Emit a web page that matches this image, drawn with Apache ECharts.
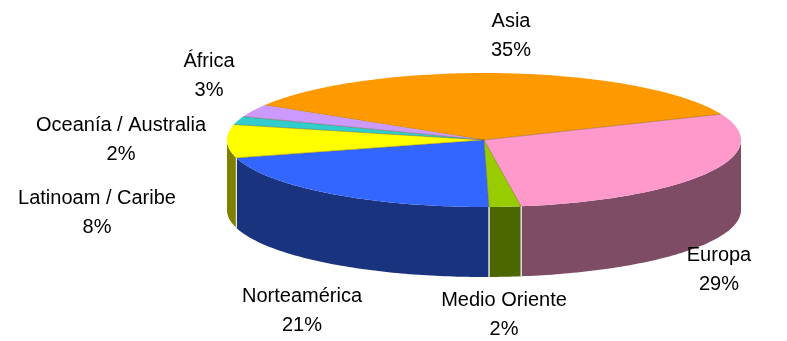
<!DOCTYPE html>
<html>
<head>
<meta charset="utf-8">
<script src="https://cdn.jsdelivr.net/npm/echarts@6/dist/echarts.min.js"></script>
<style>
  html, body { margin: 0; padding: 0; background: #ffffff; }
  #chart { width: 787px; height: 341px; }
</style>
</head>
<body>
<div id="chart"></div>
<script>
// Regional shares (%), in drawing order, clockwise from the back-left
const regions = ['Asia', 'Europa', 'Medio Oriente', 'Norteamérica', 'Latinoam / Caribe', 'Oceanía / Australia', 'África'];
const shares = [35, 29, 2, 21, 8, 2, 3];

// Top-face and side-wall colours for each slice
const topColors = ['#FF9900', '#FF99CC', '#99CC00', '#3366FF', '#FFFF00', '#33CCCC', '#CC99FF'];
const sideColors = ['#7F4C00', '#7F4C66', '#4C6600', '#1A337F', '#808000', '#196666', '#664C7F'];

// Tilted-disc geometry (pixels) and label anchor points
const geo = { cx: 484, cy: 140, rx: 257, ry: 67, depth: 70, startDeg: -148.7 };
const labelAt = [[511, 36], [719, 270], [504, 315], [302, 311], [97, 213], [121, 140], [209, 76]];

const total = shares.reduce((a, b) => a + b, 0);
const startAngles = [];
{
  let acc = 0;
  for (const v of shares) { startAngles.push(geo.startDeg + acc / total * 360); acc += v; }
}

function pt(deg, dy) {
  const t = deg * Math.PI / 180;
  return [geo.cx + geo.rx * Math.cos(t), geo.cy + geo.ry * Math.sin(t) + (dy || 0)];
}

function arc(a, b, dy) {
  const pts = [];
  const n = Math.max(2, Math.ceil(Math.abs(b - a)));
  for (let i = 0; i <= n; i++) pts.push(pt(a + (b - a) * i / n, dy));
  return pts;
}

function renderSlice(params, api) {
  const i = params.dataIndex;
  const v = api.value(0);
  const a = startAngles[i];
  const b = a + v / total * 360;
  const children = [];

  // front wall (only the part facing the viewer: 0..180 deg)
  const fa = Math.max(a, 0), fb = Math.min(b, 180);
  if (fb > fa) {
    const upper = arc(fa, fb, 0);
    const lower = arc(fb, fa, geo.depth);
    children.push({
      type: 'polygon',
      shape: { points: upper.concat(lower) },
      style: { fill: sideColors[i] }
    });
    // light seams where neighbouring walls meet
    [fa, fb].forEach(d => {
      if (d > 0 && d < 180) {
        const p = pt(d, 0), q = pt(d, geo.depth);
        children.push({
          type: 'line',
          shape: { x1: p[0], y1: p[1], x2: q[0], y2: q[1] },
          style: { stroke: '#e8e8e8', lineWidth: 1.2 }
        });
      }
    });
  }

  // top face
  children.push({
    type: 'polygon',
    shape: { points: [[geo.cx, geo.cy]].concat(arc(a, b, 0)) },
    style: { fill: topColors[i] }
  });
  // radial edge at slice start
  const e = pt(a, 0);
  children.push({
    type: 'line',
    shape: { x1: geo.cx, y1: geo.cy, x2: e[0], y2: e[1] },
    style: { stroke: 'rgba(110,90,20,0.55)', lineWidth: 0.8 }
  });

  // label: name + rounded percentage
  const pct = Math.round(v / total * 100);
  children.push({
    type: 'text',
    style: {
      text: regions[i] + '\n' + pct + '%',
      x: labelAt[i][0],
      y: labelAt[i][1],
      align: 'center',
      verticalAlign: 'middle',
      fontFamily: 'Liberation Sans, Arial, sans-serif',
      fontSize: 20,
      lineHeight: 29,
      fill: '#000000'
    }
  });

  return { type: 'group', children };
}

const chart = echarts.init(document.getElementById('chart'), null, { renderer: 'canvas' });
chart.setOption({
  animation: false,
  backgroundColor: '#ffffff',
  series: [{
    type: 'custom',
    coordinateSystem: 'none',
    renderItem: renderSlice,
    data: shares.map((v, i) => ({ name: regions[i], value: [v] }))
  }]
});
</script>
</body>
</html>
